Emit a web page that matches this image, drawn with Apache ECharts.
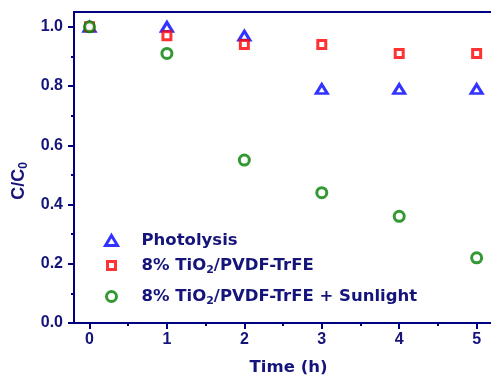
<!DOCTYPE html>
<html>
<head>
<meta charset="utf-8">
<script src="https://cdn.jsdelivr.net/npm/echarts@6/dist/echarts.min.js"></script>
<style>
html, body { margin: 0; padding: 0; background: #fff; }
#chart { width: 491px; height: 378px; }
</style>
</head>
<body>
<div id="chart"></div>
<script>
const times = [0, 1, 2, 3, 4, 5];
const photolysis = [1.0, 1.0, 0.97, 0.79, 0.79, 0.79];
const tio2 = [1.0, 0.97, 0.94, 0.94, 0.91, 0.91];
const sunlight = [1.0, 0.91, 0.55, 0.44, 0.36, 0.22];
const seriesNames = ['Photolysis', '8% TiO2/PVDF-TrFE', '8% TiO2/PVDF-TrFE + Sunlight'];

const navy = '#000080';
const textNavy = '#14147a';
const tickFont = 'Liberation Sans, Arial, sans-serif';
const titleFont = 'DejaVu Sans, sans-serif';

const chart = echarts.init(document.getElementById('chart'));

function pairs(ys) {
    return times.map((t, i) => [t, ys[i]]);
}

function subRich(size, family, pad) {
    return {
        sub: { fontSize: size, fontWeight: 'bold', color: textNavy, fontFamily: family, verticalAlign: 'bottom', padding: [pad, 0, 0, 0] }
    };
}

function legendFormatter(name) {
    return name.replace('TiO2', 'TiO{sub|2}');
}

function makeLegend(name, left, top, w, h, pad) {
    return {
        data: [name],
        left: left,
        top: top,
        itemWidth: w,
        itemHeight: h,
        itemGap: 0,
        padding: 0,
        formatter: legendFormatter,
        itemStyle: { borderWidth: 3 },
        textStyle: { fontSize: 16.5, fontWeight: 'bold', color: textNavy, fontFamily: titleFont,
            padding: [0, 0, 0, pad], rich: subRich(11, titleFont, 10) }
    };
}

const lineStyle = { color: navy, width: 2 };

const option = {
    animation: false,
    grid: [
        // data area with frame (right edge falls off the canvas)
        { left: 74, top: 12, width: 422, height: 311, outerBoundsMode: 'none',
          show: true, borderColor: navy, borderWidth: 2, backgroundColor: 'transparent' },
        // x scale 0..5
        { left: 89.49, top: 12, width: 387.1, height: 311, outerBoundsMode: 'none' },
        // y scale 0..1
        { left: 74, top: 26.81, width: 422, height: 296.19, outerBoundsMode: 'none' }
    ],
    legend: [
        makeLegend(seriesNames[0], 104, 232, 12, 10, 19),
        makeLegend(seriesNames[1], 106, 257, 8, 8, 21),
        makeLegend(seriesNames[2], 105, 288, 10, 10, 20)
    ],
    xAxis: [
        {
            gridIndex: 0, type: 'value', min: -0.2, max: 5.25,
            axisLine: { show: true, onZero: false, lineStyle: lineStyle },
            axisTick: { show: false }, axisLabel: { show: false }, splitLine: { show: false }
        },
        {
            gridIndex: 1, type: 'value', min: 0, max: 5, interval: 1,
            name: 'Time (h)', nameLocation: 'middle', nameGap: 36,
            nameTextStyle: { fontSize: 16.5, fontWeight: 'bold', color: textNavy, fontFamily: titleFont, padding: [0, 0, 0, 11] },
            axisLine: { show: false, onZero: false },
            axisTick: { show: true, length: 6, lineStyle: lineStyle },
            minorTick: { show: true, splitNumber: 2, length: 3, lineStyle: lineStyle },
            axisLabel: { margin: 9, fontSize: 16, fontWeight: 'bold', color: textNavy, fontFamily: tickFont },
            splitLine: { show: false }
        },
        {
            gridIndex: 2, type: 'value', min: -0.2, max: 5.25, show: false,
            axisLine: { onZero: false }
        }
    ],
    yAxis: [
        {
            gridIndex: 0, type: 'value', min: 0, max: 1.05,
            axisLine: { show: true, onZero: false, lineStyle: lineStyle },
            axisTick: { show: false }, axisLabel: { show: false }, splitLine: { show: false }
        },
        {
            gridIndex: 1, type: 'value', min: 0, max: 1.05, show: false,
            axisLine: { onZero: false }
        },
        {
            gridIndex: 2, type: 'value', min: 0, max: 1, interval: 0.2,
            name: 'C/C{sub|0}', nameLocation: 'middle', nameGap: 44, nameRotate: 90,
            nameTextStyle: { fontSize: 18, fontWeight: 'bold', color: textNavy, fontFamily: tickFont,
                padding: [0, 12, 0, 0], rich: subRich(12, tickFont, 10) },
            axisLine: { show: false, onZero: false },
            axisTick: { show: true, length: 6, lineStyle: lineStyle },
            minorTick: { show: true, splitNumber: 2, length: 3, lineStyle: lineStyle },
            axisLabel: { margin: 11, fontSize: 16, fontWeight: 'bold', color: textNavy, fontFamily: tickFont,
                formatter: v => v.toFixed(1) },
            splitLine: { show: false }
        }
    ],
    series: [
        {
            name: seriesNames[0], type: 'scatter', data: pairs(photolysis), z: 3,
            symbol: 'triangle', symbolSize: [11, 9],
            itemStyle: { color: '#fff', borderColor: '#0000ff', borderWidth: 3 }
        },
        {
            name: seriesNames[1], type: 'scatter', data: pairs(tio2), z: 4,
            symbol: 'rect', symbolSize: 8,
            itemStyle: { color: '#fff', borderColor: '#ff0000', borderWidth: 3 }
        },
        {
            name: seriesNames[2], type: 'scatter', data: pairs(sunlight), z: 5,
            symbol: 'circle', symbolSize: 10,
            itemStyle: { color: '#fff', borderColor: '#008000', borderWidth: 3 }
        }
    ]
};

chart.setOption(option);
</script>
</body>
</html>
